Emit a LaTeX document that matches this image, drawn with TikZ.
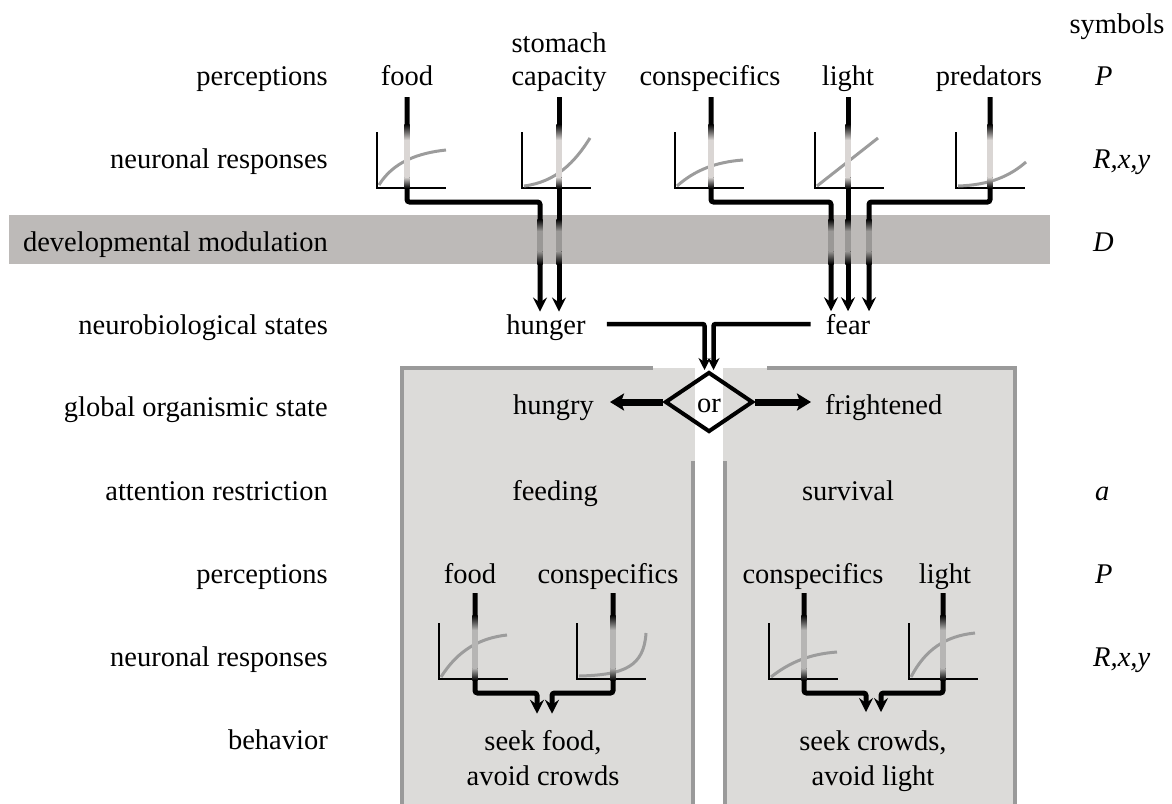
\documentclass[tikz,border=0pt]{standalone}
\usepackage{fontspec}
\setmainfont{Liberation Serif}
\usetikzlibrary{arrows.meta,shapes.geometric}
\definecolor{bandc}{HTML}{BDBAB8}
\definecolor{boxc}{HTML}{DCDBD9}
\definecolor{borderc}{HTML}{9A9A9A}
\definecolor{curvec}{HTML}{9C9C9C}
\definecolor{toplight}{HTML}{DAD6D4}
\definecolor{bandgrey}{HTML}{9A9896}
\definecolor{lowlight}{HTML}{B6B5B4}
\newcommand{\fadebar}[6]{%
  \shade[top color=black,bottom color=#6] (#1-2.6,#2) rectangle (#1+2.6,#3);
  \fill[#6] (#1-2.6,#3) rectangle (#1+2.6,#4);
  \shade[top color=#6,bottom color=black] (#1-2.6,#4) rectangle (#1+2.6,#5);}
\newcommand{\respaxes}[2]{\draw[axisline] (#1,#2-56) -- (#1,#2) -- (#1+69,#2);}
\newcommand{\lbl}{\fontsize{28.5}{34}\selectfont}
\begin{document}
\begin{tikzpicture}[x=1pt,y=-1pt,
  every node/.style={inner sep=0pt,font=\lbl},
  rowlab/.style={anchor=base east},
  symlab/.style={anchor=base west,font=\lbl\itshape},
  mid/.style={anchor=base},
  conn/.style={line width=5pt,rounded corners=2.5pt},
  arr/.style={conn,-{Stealth[length=14pt,width=14pt,inset=5pt]},shorten >=2.5pt},
  axisline/.style={line width=2.6pt,line join=miter},
  curve/.style={line width=3pt,curvec},
  boxline/.style={line width=4.5pt,borderc,line join=miter},
  bigarr/.style={line width=7pt,-{Stealth[length=14pt,width=17pt,inset=3pt]}},
  orarr/.style={line width=4.5pt,-{Stealth[length=12pt,width=12pt,inset=4pt]}}]
\useasboundingbox (0,0) rectangle (1172,803);

% band and boxes
\fill[bandc] (9,215) rectangle (1050,264);
\fill[boxc] (402,368) rectangle (695,810);
\fill[boxc] (723,368) rectangle (1015,810);
\draw[boxline] (653,368) -- (402,368) -- (402,812);
\draw[boxline] (693,461) -- (693,812);
\draw[boxline] (767,368) -- (1015,368) -- (1015,812);
\draw[boxline] (725,461) -- (725,812);

% row labels
\node[rowlab] (lP1) at (328,85) {perceptions};
\node[rowlab] (lR1) at (328,168) {neuronal responses};
\node[rowlab] (lD) at (328,251) {developmental modulation};
\node[rowlab] (lN) at (328,334) {neurobiological states};
\node[rowlab] (lG) at (328,416) {global organismic state};
\node[rowlab] (lA) at (328,500) {attention restriction};
\node[rowlab] (lP2) at (328,583) {perceptions};
\node[rowlab] (lR2) at (328,666) {neuronal responses};
\node[rowlab] (lB) at (328,749) {behavior};

% symbols
\node[mid] (sym) at (1117,33) {symbols};
\node[symlab] (sP1) at (1095,85) {P};
\node[symlab] (sR1) at (1093,168) {R,x,y};
\node[symlab] (sD) at (1093,251) {D};
\node[symlab] (sA) at (1095,500) {a};
\node[symlab] (sP2) at (1095,583) {P};
\node[symlab] (sR2) at (1093,666) {R,x,y};

% top perceptions
\node[mid] (food) at (407,85) {food};
\node[mid] (stomach) at (559,52) {stomach};
\node[mid] (capacity) at (559,85) {capacity};
\node[mid] (cons) at (710,85) {conspecifics};
\node[mid] (light) at (848,85) {light};
\node[mid] (pred) at (989,85) {predators};

% states
\node[mid] (hunger) at (546,334) {hunger};
\node[mid] (fear) at (848,334) {fear};
\node[draw,line width=4pt,shape=diamond,minimum width=88pt,minimum height=60pt] (or) at (709,402) {};
\node[mid] (ortxt) at (709,412) {or};
\node[anchor=base east] (hungry) at (594,414) {hungry};
\node[anchor=base west] (fright) at (825,414) {frightened};
\node[mid] (feeding) at (555,500) {feeding};
\node[mid] (survival) at (848,500) {survival};

% lower perceptions
\node[mid] (food2) at (470,583) {food};
\node[mid] (cons2) at (608,583) {conspecifics};
\node[mid] (cons3) at (813,583) {conspecifics};
\node[mid] (light2) at (945,583) {light};

% behaviours
\node[mid] (seekF) at (543,750) {seek food,};
\node[mid] (avoidC) at (543,785) {avoid crowds};
\node[mid] (seekC) at (873,750) {seek crowds,};
\node[mid] (avoidL) at (873,785) {avoid light};

% top response graphs
\respaxes{377}{188}
\draw[curve] (379,185) .. controls (393,162) and (418,153) .. (446,150);
\respaxes{522}{188}
\draw[curve] (524,186) .. controls (556,182) and (575,162) .. (590,138);
\respaxes{675}{188}
\draw[curve] (677,186) .. controls (695,170) and (716,162) .. (743,160);
\respaxes{815}{188}
\draw[curve] (817,186) -- (878,138);
\respaxes{956}{188}
\draw[curve] (958,186) .. controls (990,185) and (1010,176) .. (1026,162);

% lower response graphs
\respaxes{439}{679}
\draw[curve] (441,677) .. controls (458,650) and (480,638) .. (507,635);
\respaxes{577}{679}
\draw[curve] (579,676) .. controls (625,675) and (644,666) .. (646,633);
\respaxes{769}{679}
\draw[curve] (771,677) .. controls (790,662) and (810,654) .. (837,652);
\respaxes{909}{679}
\draw[curve] (911,677) .. controls (925,650) and (945,636) .. (975,633);

% bar start points and junctions
\coordinate (bFood) at (407,97);
\coordinate (bStom) at (559,97);
\coordinate (bCons) at (711,97);
\coordinate (bLight) at (848,97);
\coordinate (bPred) at (990,97);
\coordinate (hA) at (540,202);
\coordinate (fA) at (831,202);
\coordinate (fC) at (869,202);

\draw[arr] (bFood) |- (hA) -- (hA |- hunger.north);
\draw[arr] (bStom) -- (bStom |- hunger.north);
\draw[arr] (bCons) |- (fA) -- (fA |- fear.north);
\draw[arr] (bLight) -- (bLight |- fear.north);
\draw[arr] (bPred) |- (fC) -- (fC |- fear.north);

% hunger / fear to or
\draw[orarr,rounded corners=2pt] ([xshift=21pt,yshift=10pt]hunger.base east) -| ([xshift=-4.5pt]or.north);
\draw[orarr,rounded corners=2pt] ([xshift=-15pt,yshift=10pt]fear.base west) -| ([xshift=4.5pt]or.north);
\draw[bigarr] (or.west) -- ([xshift=16pt]or.west -| hungry.east);
\draw[bigarr] (or.east) -- ([xshift=-14pt]or.east -| fright.west);

% lower bars
\coordinate (lb1) at (475,593);
\coordinate (lb2) at (613,593);
\coordinate (lb3) at (804,593);
\coordinate (lb4) at (943,593);
\coordinate (lj1) at (537,693);
\coordinate (lj2) at (552,693);
\coordinate (lj3) at (866,693);
\coordinate (lj4) at (881,693);
\draw[arr,shorten >=16pt] (lb1) |- (lj1) -- (lj1 |- seekF.north);
\draw[arr,shorten >=16pt] (lb2) |- (lj2) -- (lj2 |- seekF.north);
\draw[arr,shorten >=18pt] (lb3) |- (lj3) -- (lj3 |- seekC.north);
\draw[arr,shorten >=18pt] (lb4) |- (lj4) -- (lj4 |- seekC.north);

% fading overlays
\fadebar{407}{124}{140}{177}{188}{toplight}
\fadebar{559}{124}{140}{177}{188}{toplight}
\fadebar{711}{124}{140}{177}{188}{toplight}
\fadebar{848}{124}{140}{177}{188}{toplight}
\fadebar{990}{124}{140}{177}{188}{toplight}
\fadebar{540}{219}{231}{251}{264}{bandgrey}
\fadebar{559}{219}{231}{251}{264}{bandgrey}
\fadebar{831}{219}{231}{251}{264}{bandgrey}
\fadebar{848}{219}{231}{251}{264}{bandgrey}
\fadebar{869}{219}{231}{251}{264}{bandgrey}
\fadebar{475}{615}{630}{668}{680}{lowlight}
\fadebar{613}{615}{630}{668}{680}{lowlight}
\fadebar{804}{615}{630}{668}{680}{lowlight}
\fadebar{943}{615}{630}{668}{680}{lowlight}
\end{tikzpicture}
\end{document}
